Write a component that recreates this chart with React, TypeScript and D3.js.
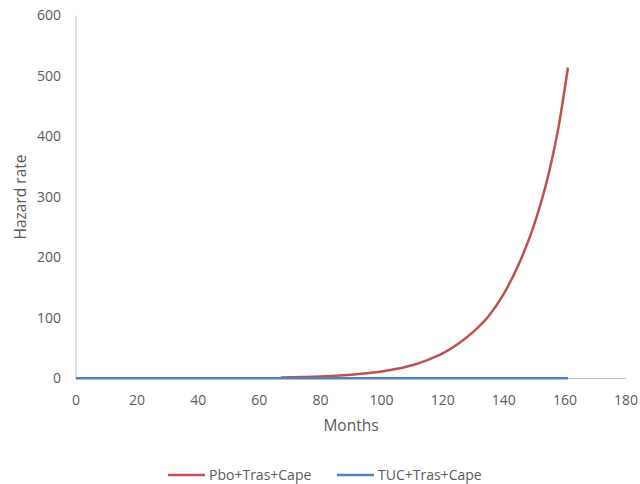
import React from "react";
import * as d3 from "d3";

const months = [67, 75, 80, 85, 90, 95, 100, 105, 110, 115, 120, 125, 130, 135, 140, 145, 150, 155, 158, 161];
const pboValues = [1.5, 2.4, 3.3, 4.5, 6.2, 8.5, 11.5, 16, 22, 30.5, 41.5, 57, 77, 103, 140, 190, 255, 345, 418, 514];
const tucMonths = [0, 40, 80, 120, 161];
const tucValues = [0.3, 0.3, 0.3, 0.4, 0.5];
const xTicks = [0, 20, 40, 60, 80, 100, 120, 140, 160, 180];
const yTicks = [0, 100, 200, 300, 400, 500, 600];
const seriesNames = ["Pbo+Tras+Cape", "TUC+Tras+Cape"];
const seriesColors = ["#c0504d", "#4f81bd"];

const W = 640, H = 484;
const FONT = "'Open Sans', 'Liberation Sans', sans-serif";

export default function App() {
  const x = d3.scaleLinear().domain([0, 180]).range([76, 626]);
  const y = d3.scaleLinear().domain([0, 600]).range([378.5, 15.5]);
  const line = d3.line<[number, number]>().x(d => x(d[0])).y(d => y(d[1])).curve(d3.curveMonotoneX);
  const pbo = months.map((m, i) => [m, pboValues[i]] as [number, number]);
  const tuc = tucMonths.map((m, i) => [m, tucValues[i]] as [number, number]);
  const legendX = [168, 337];
  return (
    <div style={{ position: "absolute", left: 0, top: 0 }}>
      <svg width={W} height={H} style={{ display: "block", background: "#fff" }}>
        <line x1={x(0)} x2={x(180)} y1={y(0)} y2={y(0)} stroke="#bfbfbf" strokeWidth={1} />
        <line x1={x(0)} x2={x(0)} y1={y(0)} y2={y(600)} stroke="#bfbfbf" strokeWidth={1} />
        {yTicks.map(t => (
          <text key={t} x={61} y={y(t)} dy="0.35em" textAnchor="end" fontFamily={FONT} fontSize={14} fill="#595959">{t}</text>
        ))}
        {xTicks.map(t => (
          <text key={t} x={x(t)} y={400} dy="0.35em" textAnchor="middle" fontFamily={FONT} fontSize={14} fill="#595959">{t}</text>
        ))}
        <text x={351} y={426} dy="0.35em" textAnchor="middle" fontFamily={FONT} fontSize={15.5} fill="#595959">Months</text>
        <text transform={`translate(21,${197}) rotate(-90)`} dy="0.35em" textAnchor="middle" fontFamily={FONT} fontSize={15.5} fill="#595959">Hazard rate</text>
        <path d={line(pbo) || ""} fill="none" stroke={seriesColors[0]} strokeWidth={2.5} />
        <path d={line(tuc) || ""} fill="none" stroke={seriesColors[1]} strokeWidth={2.5} />
        {seriesNames.map((n, i) => (
          <g key={n}>
            <line x1={legendX[i]} x2={legendX[i] + 37} y1={475} y2={475} stroke={seriesColors[i]} strokeWidth={2.5} />
            <text x={legendX[i] + 41} y={475} dy="0.35em" fontFamily={FONT} fontSize={14} fill="#595959">{n}</text>
          </g>
        ))}
      </svg>
    </div>
  );
}
